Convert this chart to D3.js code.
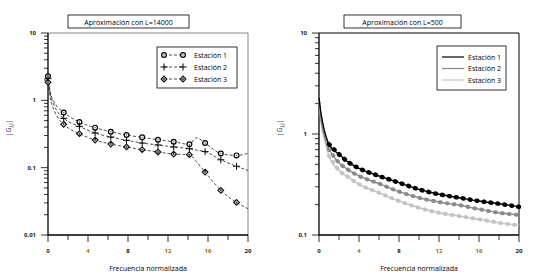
<!DOCTYPE html>
<html>
<head>
<meta charset="utf-8">
<script src="https://cdn.jsdelivr.net/npm/d3@7"></script>
<style>
  body { margin: 0; background: #fff; }
  svg { font-family: "Open Sans", sans-serif; }
</style>
</head>
<body>
<div id="chart"></div>
<script>
// ---- data: left panel (L=14000) ----
const freqL = [0, 0.25, 0.6, 1.0, 1.57, 3.14, 4.71, 6.28, 7.85, 9.42, 11.0, 12.57, 14.14, 14.85, 15.71, 17.28, 18.85, 20];
const markerFreqL = [0, 1.57, 3.14, 4.71, 6.28, 7.85, 9.42, 11.0, 12.57, 14.14, 15.71, 17.28, 18.85];
const est1L = [2.28, 1.3, 0.95, 0.78, 0.66, 0.476, 0.393, 0.342, 0.305, 0.282, 0.26, 0.243, 0.222, 0.278, 0.232, 0.162, 0.152, 0.163];
const est2L = [2.1, 1.2, 0.85, 0.66, 0.54, 0.41, 0.327, 0.285, 0.255, 0.232, 0.217, 0.203, 0.191, 0.182, 0.173, 0.131, 0.105, 0.091];
const est3L = [1.86, 1.05, 0.72, 0.55, 0.44, 0.32, 0.257, 0.224, 0.203, 0.185, 0.171, 0.159, 0.156, 0.122, 0.086, 0.046, 0.0305, 0.0246];

// ---- data: right panel (L=500) ----
const freqR = [0, 0.2, 0.5, 1, 2, 3, 4, 6, 8, 10, 12, 14, 16, 18, 20];
const est1R = [2.3, 1.6, 1.12, 0.79, 0.63, 0.52, 0.457, 0.384, 0.33, 0.283, 0.253, 0.234, 0.217, 0.204, 0.19];
const est2R = [2.3, 1.4, 0.98, 0.705, 0.52, 0.437, 0.384, 0.323, 0.269, 0.234, 0.212, 0.198, 0.18, 0.166, 0.158];
const est3R = [2.3, 1.3, 0.92, 0.605, 0.437, 0.37, 0.318, 0.262, 0.217, 0.186, 0.166, 0.154, 0.143, 0.132, 0.125];

const seriesNames = ["Estación 1", "Estación 2", "Estación 3"];
const xTicks = [0, 4, 8, 12, 16, 20];
const orangeTicks = [4, 12, 16];

const svg = d3.select("#chart").append("svg")
    .attr("width", 540).attr("height", 279);

// draws frame, axes and labels for one panel, returns scales
function panel(left, right, yDomain, yMajor, title, titleBox, frameColor) {
    const top = 33, bottom = 235;
    const x = d3.scaleLinear().domain([0, 20]).range([left, right]);
    const y = d3.scaleLog().domain(yDomain).range([bottom, top]);
    const g = svg.append("g");

    // top / right frame
    g.append("path")
        .attr("d", `M${left},${top}H${right}V${bottom}`)
        .attr("fill", "none").attr("stroke", frameColor).attr("stroke-width", 1);

    // minor y ticks
    const minor = [];
    for (let e = Math.log10(yDomain[0]); e < Math.log10(yDomain[1]); e++)
        for (let m = 2; m <= 9; m++) minor.push(m * Math.pow(10, e));
    g.selectAll(".ymin").data(minor).enter().append("line")
        .attr("x1", left - 4).attr("x2", left)
        .attr("y1", d => y(d)).attr("y2", d => y(d))
        .attr("stroke", "#000").attr("stroke-width", 0.8);
    g.selectAll(".ymaj").data(yMajor).enter().append("line")
        .attr("x1", left - 7).attr("x2", left)
        .attr("y1", d => y(d)).attr("y2", d => y(d))
        .attr("stroke", "#000").attr("stroke-width", 0.8);
    g.selectAll(".ylab").data(yMajor).enter().append("text")
        .attr("x", left - 12).attr("y", d => y(d) + 2)
        .attr("text-anchor", "end").attr("font-size", 6).attr("font-weight", "bold")
        .attr("fill", "#222")
        .text(d => d >= 1 ? d3.format("d")(d) : String(d));

    // x ticks
    const xt = d3.range(0, 21, 2);
    g.selectAll(".xt").data(xt).enter().append("line")
        .attr("x1", d => x(d)).attr("x2", d => x(d))
        .attr("y1", bottom).attr("y2", d => bottom + (d % 4 === 0 ? 7 : 5))
        .attr("stroke", "#000").attr("stroke-width", 0.8);
    g.selectAll(".xlab").data(xTicks).enter().append("text")
        .attr("x", d => x(d)).attr("y", 253)
        .attr("text-anchor", "middle").attr("font-size", 6).attr("font-weight", "bold")
        .attr("fill", d => orangeTicks.includes(d) ? "#a86a10" : "#222")
        .text(d => d);

    // axis lines
    g.append("path")
        .attr("d", `M${left},${top}V${bottom}H${right}`)
        .attr("fill", "none").attr("stroke", "#000").attr("stroke-width", 1.3);

    // x label
    g.append("text")
        .attr("x", (left + right) / 2).attr("y", 271)
        .attr("text-anchor", "middle").attr("font-size", 7)
        .text("Frecuencia normalizada");

    // y label
    g.append("text")
        .attr("transform", `translate(${left - 37},${128}) rotate(-90)`)
        .attr("text-anchor", "middle").attr("font-size", 7).attr("fill", "#335")
        .html("|G<tspan font-size='5' dy='1.5'>J,J</tspan><tspan dy='-1.5'>|</tspan>");

    // title box
    g.append("rect")
        .attr("x", titleBox[0]).attr("y", 15)
        .attr("width", titleBox[1] - titleBox[0]).attr("height", 13)
        .attr("fill", "#fff").attr("stroke", "#000").attr("stroke-width", 0.8);
    g.append("text")
        .attr("x", (titleBox[0] + titleBox[1]) / 2).attr("y", 24.5)
        .attr("text-anchor", "middle").attr("font-size", 7)
        .text(title);

    return { x, y, g };
}

// ---------- left panel ----------
const P1 = panel(48, 248, [0.01, 10], [0.01, 0.1, 1, 10], "Aproximación con L=14000", [68, 189], "#888");

const lineL = d3.line()
    .x(d => P1.x(d[0])).y(d => P1.y(d[1]))
    .curve(d3.curveMonotoneX);

const leftSeries = [est1L, est2L, est3L];
leftSeries.forEach(vals => {
    const pts = freqL.map((f, i) => [f, vals[i]]);
    P1.g.append("path")
        .datum(pts)
        .attr("d", lineL)
        .attr("fill", "none").attr("stroke", "#222")
        .attr("stroke-width", 0.8).attr("stroke-dasharray", "3,2");
});

function marker(g, kind, cx, cy) {
    if (kind === 0) {
        g.append("circle").attr("cx", cx).attr("cy", cy).attr("r", 2.4)
            .attr("fill", "#fff").attr("stroke", "#000").attr("stroke-width", 1.2);
        g.append("circle").attr("cx", cx).attr("cy", cy).attr("r", 0.7).attr("fill", "#555");
    } else if (kind === 1) {
        g.append("path").attr("d", `M${cx - 3.5},${cy}H${cx + 3.5}M${cx},${cy - 3.5}V${cy + 3.5}`)
            .attr("stroke", "#000").attr("stroke-width", 1);
    } else {
        g.append("path").attr("d", `M${cx},${cy - 2.8}L${cx + 2.8},${cy}L${cx},${cy + 2.8}L${cx - 2.8},${cy}Z`)
            .attr("fill", "#fff").attr("stroke", "#111").attr("stroke-width", 1.2);
        g.append("circle").attr("cx", cx).attr("cy", cy).attr("r", 1).attr("fill", "#333");
    }
}

leftSeries.forEach((vals, k) => {
    markerFreqL.forEach(f => {
        const i = freqL.indexOf(f);
        marker(P1.g, k, P1.x(f), P1.y(vals[i]));
    });
});

// legend left
const leg1 = P1.g.append("g");
leg1.append("rect").attr("x", 157).attr("y", 47).attr("width", 80).attr("height", 41)
    .attr("fill", "#fff").attr("stroke", "#000").attr("stroke-width", 0.8);
seriesNames.forEach((name, k) => {
    const ly = 55 + k * 12;
    leg1.append("line").attr("x1", 164).attr("x2", 183).attr("y1", ly).attr("y2", ly)
        .attr("stroke", "#222").attr("stroke-width", 0.8).attr("stroke-dasharray", "3,2");
    marker(leg1, k, 164, ly);
    marker(leg1, k, 183, ly);
    leg1.append("text").attr("x", 194).attr("y", ly + 2.5).attr("font-size", 7).text(name);
});

// ---------- right panel ----------
const P2 = panel(319, 519, [0.1, 10], [0.1, 1, 10], "Aproximación con L=500", [344, 461], "#000");

const lineR = d3.line()
    .x(d => P2.x(d[0])).y(d => P2.y(d[1]))
    .curve(d3.curveMonotoneX);

const rightSeries = [est3R, est2R, est1R];
const rightColors = ["#c4c4c4", "#8a8a8a", "#000"];
rightSeries.forEach((vals, k) => {
    const pts = freqR.map((f, i) => [f, vals[i]]);
    P2.g.append("path").datum(pts).attr("d", lineR)
        .attr("fill", "none").attr("stroke", rightColors[k]).attr("stroke-width", 1.4);
    // ripple beads
    P2.g.append("path").datum(pts.filter(p => p[0] >= 1)).attr("d", lineR)
        .attr("fill", "none").attr("stroke", rightColors[k])
        .attr("stroke-width", k === 2 ? 4.5 : 4).attr("stroke-linecap", "round")
        .attr("stroke-dasharray", "0.8,6.2");
});

// legend right
const leg2 = P2.g.append("g");
leg2.append("rect").attr("x", 437).attr("y", 46).attr("width", 69).attr("height", 44)
    .attr("fill", "#fff").attr("stroke", "#000").attr("stroke-width", 0.8);
const legColors = ["#000", "#8a8a8a", "#c4c4c4"];
seriesNames.forEach((name, k) => {
    const ly = 57 + k * 11.5;
    leg2.append("line").attr("x1", 442).attr("x2", 464).attr("y1", ly).attr("y2", ly)
        .attr("stroke", legColors[k]).attr("stroke-width", 1.2);
    leg2.append("text").attr("x", 468).attr("y", ly + 2.5).attr("font-size", 7).text(name);
});
</script>
</body>
</html>
